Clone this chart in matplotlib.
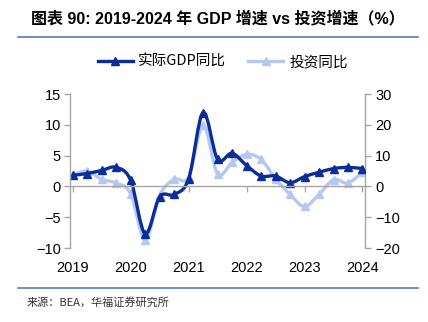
import matplotlib
matplotlib.use("Agg")
import matplotlib.pyplot as plt
from matplotlib.path import Path
from matplotlib.patches import PathPatch
from matplotlib.lines import Line2D
import numpy as np

plt.rcParams['font.family'] = ['Liberation Sans', 'Noto Sans CJK SC', 'DejaVu Sans']

# quarterly, 2019Q1 .. 2024Q1
years = ["2019", "2020", "2021", "2022", "2023", "2024"]
gdp = [1.8, 2.1, 2.6, 3.1, 1.0, -7.7, -1.7, -1.3, 1.2, 12.0, 4.4, 5.4,
       3.4, 1.7, 1.7, 0.6, 1.6, 2.3, 2.9, 3.1, 2.9]
invest = [3.6, 5.0, 2.3, 1.1, -2.4, -17.4, -2.9, 2.3, 3.0, 19.9, 4.1, 7.8,
          10.4, 8.8, 2.5, -2.6, -6.5, -2.6, 2.2, 1.1, 4.7]

DARK = "#0B2D9C"
LIGHT = "#B5C8F2"
GREY = "#A6A6A6"


def smooth_path(x, y):
    # catmull-rom through the points, drawn as cubic beziers
    x = np.asarray(x, float)
    y = np.asarray(y, float)
    verts = [(x[0], y[0])]
    codes = [Path.MOVETO]
    n = len(x)
    for i in range(n - 1):
        p0 = i - 1 if i > 0 else i
        p3 = i + 2 if i + 2 < n else i + 1
        c1 = (x[i] + (x[i + 1] - x[p0]) / 6, y[i] + (y[i + 1] - y[p0]) / 6)
        c2 = (x[i + 1] - (x[p3] - x[i]) / 6, y[i + 1] - (y[p3] - y[i]) / 6)
        verts += [c1, c2, (x[i + 1], y[i + 1])]
        codes += [Path.CURVE4] * 3
    return Path(verts, codes)


fig = plt.figure(figsize=(4.28, 3.22), dpi=100)
ax = fig.add_axes([0.1647, 0.2298, 0.689, 0.478])
ax2 = ax.twinx()

xs = np.arange(len(gdp))

# investment on right axis (drawn first, under GDP)
ax2.add_patch(PathPatch(smooth_path(xs, invest), fill=False, edgecolor=LIGHT, lw=2.4))
ax2.plot(xs, invest, ls="none", marker="^", ms=6, color=LIGHT)
ax2.set_zorder(1)
ax.set_zorder(2)
ax.patch.set_visible(False)

ax.add_patch(PathPatch(smooth_path(xs, gdp), fill=False, edgecolor=DARK, lw=2.4))
ax.plot(xs, gdp, ls="none", marker="^", ms=6, color=DARK)

ax.set_xlim(-0.15, 20.2)
ax.set_ylim(-10, 15)
ax2.set_ylim(-20, 30)
ax.set_yticks([-10, -5, 0, 5, 10, 15])
ax2.set_yticks([-20, -10, 0, 10, 20, 30])
ax.set_xticks(np.arange(0, len(gdp), 4))
ax.set_xticklabels(years)

for a in (ax, ax2):
    a.spines["top"].set_visible(False)
    for s in ("left", "right", "bottom"):
        a.spines[s].set_color(GREY)
        a.spines[s].set_linewidth(1.0)
    a.tick_params(colors=GREY, labelcolor="black", labelsize=10.5, length=4, width=1.0)
ax.spines["right"].set_visible(False)
ax2.spines["left"].set_visible(False)
ax2.spines["bottom"].set_visible(False)
ax.spines["bottom"].set_position(("data", 0))
ax.tick_params(axis="x", direction="out", length=4, pad=50)
ax.tick_params(axis="y", pad=3)
ax2.tick_params(axis="y", pad=3)

handles = [Line2D([], [], color=DARK, lw=2.4, marker="^", ms=6),
           Line2D([], [], color=LIGHT, lw=2.4, marker="^", ms=6)]
fig.legend(handles, ["实际GDP同比", "投资同比"], loc="center", bbox_to_anchor=(0.52, 0.807),
           ncol=2, frameon=False, fontsize=10.5, handlelength=2.4, columnspacing=1.5,
           handletextpad=0.4, prop={"family": ["Noto Sans CJK SC", "Liberation Sans"], "size": 10.5})

fig.text(0.51, 0.944, "图表 90: 2019-2024 年 GDP 增速 vs 投资增速（%）", ha="center", va="center",
         fontsize=11.5, fontweight="bold", family=["Liberation Sans", "Noto Sans CJK SC"])
fig.add_artist(Line2D([0.042, 0.977], [0.886, 0.886], color="#4F7CC4", lw=1.2))
fig.add_artist(Line2D([0.042, 0.977], [0.106, 0.106], color="#4F7CC4", lw=1.2))
fig.text(0.063, 0.062, "来源：BEA，华福证券研究所", ha="left", va="center", fontsize=8,
         family=["Noto Sans CJK SC", "Liberation Sans"], color="#333333")

fig.savefig("out.png", dpi=100)
